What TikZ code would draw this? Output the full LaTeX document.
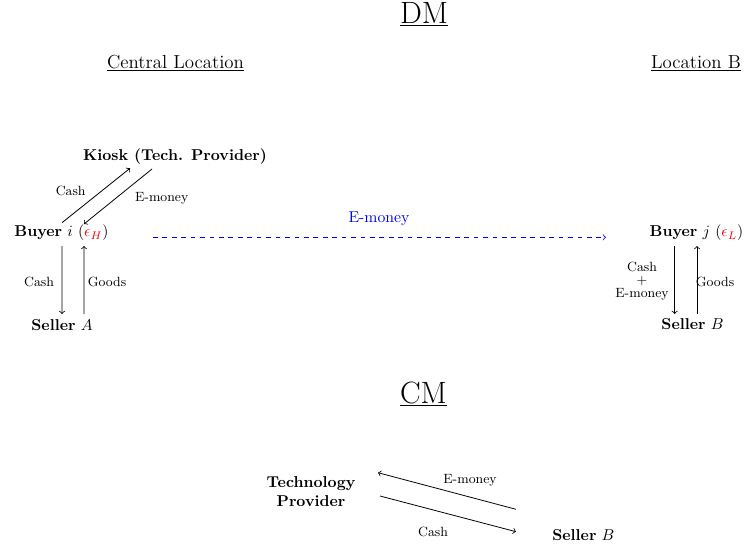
\documentclass[tikz,border=0pt]{standalone}
\usetikzlibrary{calc}
\begin{document}
\begin{tikzpicture}[x=0.636pt,y=-0.636pt,
  ent/.style={inner sep=0pt,anchor=base,font=\normalsize},
  head/.style={inner sep=0pt,anchor=base,font=\fontsize{19.6}{23}\selectfont},
  loc/.style={inner sep=0pt,anchor=base,font=\large},
  lbl/.style={inner sep=0pt,font=\fontsize{8.5}{8.3}\selectfont,align=center},
  arr/.style={->,line width=0.5pt}]
\useasboundingbox (0,0) rectangle (747,549);
% headings
\node[head] (dm) at (424,23.5) {\underline{DM}};
\node[head] (cm) at (423.5,403) {\underline{CM}};
\node[loc] (cl) at (175.5,68) {\underline{Central Location}};
\node[loc] (lb) at (696,68.3) {\underline{Location B}};
% entities
\node[ent] (kiosk) at (175,160.7) {\textbf{Kiosk (Tech. Provider)}};
\node[ent] (buyeri) at (61.5,236.7) {\textbf{Buyer} $i$ $(\textcolor{red}{\epsilon_H})$};
\node[ent] (sellera) at (62,330.7) {\textbf{Seller} $A$};
\node[ent] (buyerj) at (696.5,236.7) {\textbf{Buyer} $j$ $(\textcolor{red}{\epsilon_L})$};
\node[ent] (sellerb) at (692.5,329.4) {\textbf{Seller} $B$};
\node[inner sep=0pt,align=center,font=\bfseries] (tp) at (311,491.6) {Technology\\Provider};
\node[ent] (sellerc) at (583.4,540.7) {\textbf{Seller} $B$};
% kiosk arrows
\draw[arr] ($(buyeri.base)+(0.5,-14)$) -- ($(kiosk.base)+(-45,7.6)$);
\draw[arr] ($(kiosk.base)+(-23,8.3)$) -- ($(buyeri.base)+(22.5,-12.7)$);
\node[lbl] (lc1) at (70.7,190.7) {Cash};
\node[lbl] (le1) at (161.7,198.3) {E-money};
% buyer i - seller A
\draw[arr] ($(buyeri.base)+(0.5,9.3)$) -- ($(sellera.base)+(0,-16.7)$);
\draw[arr] ($(sellera.base)+(22,-16.7)$) -- ($(buyeri.base)+(22.5,9.3)$);
\node[lbl] (lc2) at (39,282) {Cash};
\node[lbl] (lg2) at (107,282) {Goods};
% buyer j - seller B
\draw[arr] ($(buyerj.base)+(-21.8,9.3)$) -- ($(sellerb.base)+(-17.8,-15.4)$);
\draw[arr] ($(sellerb.base)+(4.5,-15.4)$) -- ($(buyerj.base)+(0.5,9.3)$);
\node[lbl] (lc3) at (642,281.5) {Cash\\+\\E-money};
\node[lbl] (lg3) at (715,282) {Goods};
% dashed e-money
\draw[arr,blue,dashed] ($(buyeri.base)+(91.5,0.6)$) -- ($(buyerj.base)+(-90.5,0.6)$);
\node[inner sep=0pt,blue,font=\normalsize] (lem) at (379,218.5) {E-money};
% CM arrows
\draw[arr] ($(sellerc.base)+(-67.4,-31.4)$) -- ($(tp.center)+(67,-18.9)$);
\draw[arr] ($(tp.center)+(69,4.4)$) -- ($(sellerc.base)+(-67.4,-9)$);
\node[lbl] (le4) at (470,480) {E-money};
\node[lbl] (lc4) at (433,531.7) {Cash};
\end{tikzpicture}
\end{document}
